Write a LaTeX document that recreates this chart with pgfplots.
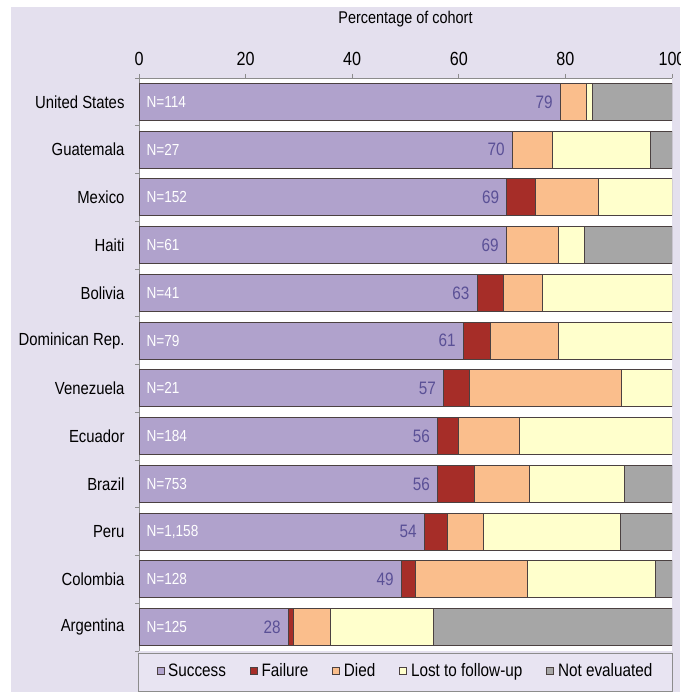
\documentclass[border=0pt]{standalone}
\usepackage{fontspec}
\setmainfont{Liberation Sans}[FakeStretch=0.85]
\usepackage{pgfplots}
\usepackage{pgfplotstable}
\pgfplotsset{compat=1.18}
\definecolor{bgl}{RGB}{228,224,238}
\definecolor{legbg}{RGB}{232,228,242}
\definecolor{csucc}{RGB}{176,162,204}
\definecolor{cfail}{RGB}{166,45,40}
\definecolor{cdied}{RGB}{250,190,140}
\definecolor{clost}{RGB}{255,255,204}
\definecolor{cne}{RGB}{166,166,166}
\definecolor{cout}{RGB}{75,65,65}
\definecolor{cpct}{RGB}{90,80,150}
\definecolor{caxis}{RGB}{140,140,140}

\pgfplotstableread{
idx succ fail died lost ne
11 79 0 5 1 15
10 70 0 7.5 18.5 4
9 69 5.3 11.8 13.9 0
8 68.9 0 9.8 4.9 16.4
7 63.4 4.9 7.3 24.4 0
6 60.8 5.1 12.7 21.4 0
5 57.1 4.8 28.6 9.5 0
4 56 4 11.4 28.6 0
3 56 7 10.2 17.8 9
2 53.5 4.4 6.7 25.8 9.6
1 49.2 2.6 21 24 3.2
0 28 1 7 19.2 44.8
}\data

\pgfplotstableread{
idx x lab
11 0 N=114
10 0 N=27
9 0 N=152
8 0 N=61
7 0 N=41
6 0 N=79
5 0 N=21
4 0 N=184
3 0 N=753
2 0 N=1,158
1 0 N=128
0 0 N=125
}\nlab

\pgfplotstableread{
idx x lab
11 79 79
10 70 70
9 69 69
8 68.9 69
7 63.4 63
6 60.8 61
5 57.1 57
4 56 56
3 56 56
2 53.5 54
1 49.2 49
0 28 28
}\plab

\begin{document}
\begin{tikzpicture}[x=1pt,y=1pt]
\useasboundingbox (0,0) rectangle (680,-692);
\fill[bgl] (11,-7) rectangle (680,-692);
\filldraw[fill=legbg, draw=caxis, line width=0.8pt] (138,-653) rectangle (672,-691.5);
\begin{axis}[
  at={(139pt,-78pt)}, anchor=north west,
  scale only axis, width=533pt, height=573pt,
  xmin=0, xmax=100, ymin=-0.5, ymax=11.5,
  xbar stacked, bar width=37pt,
  axis background/.style={fill=white},
  axis x line*=top, axis y line*=left,
  axis line style={draw=caxis, line width=0.8pt},
  xtick={0,20,40,60,80,100},
  xticklabels={0,20,40,60,80,100},
  ytick={-0.5,0.5,1.5,2.5,3.5,4.5,5.5,6.5,7.5,8.5,9.5,10.5,11.5},
  yticklabels={},
  tick align=outside, major tick length=4pt,
  tick style={draw=caxis, line width=0.8pt},
  xticklabel style={font=\fontsize{19}{22}\selectfont},
  xticklabel shift=5pt,
  title={Percentage of cohort},
  title style={at={(0.5,1)}, anchor=center, yshift=53pt, font=\fontsize{17}{20}\selectfont},
  legend columns=5,
  legend style={at={(0.5,-0.035)}, anchor=center, draw=none, fill=none,
    font=\fontsize{18}{21}\selectfont,
    /tikz/every odd column/.append style={column sep=2pt},
    /tikz/every even column/.append style={column sep=22pt}},
  legend image code/.code={\draw[#1, draw=cout, line width=0.6pt] (0pt,-3.5pt) rectangle (7pt,3.5pt);},
  every axis plot/.append style={draw=cout, line width=0.8pt},
]
\addplot[fill=csucc] table[x=succ, y=idx]{\data};
\addplot[fill=cfail] table[x=fail, y=idx]{\data};
\addplot[fill=cdied] table[x=died, y=idx]{\data};
\addplot[fill=clost] table[x=lost, y=idx]{\data};
\addplot[fill=cne] table[x=ne, y=idx]{\data};
\legend{Success, Failure, Died, Lost to follow-up, Not evaluated}
\end{axis}
\begin{axis}[
  at={(139pt,-78pt)}, anchor=north west,
  scale only axis, width=533pt, height=573pt,
  xmin=0, xmax=100, ymin=-0.5, ymax=11.5,
  axis line style={draw=none}, tick style={draw=none},
  xtick=\empty, ytick={0,...,11},
  yticklabels={Argentina,Colombia,Peru,Brazil,Ecuador,Venezuela,Dominican Rep.,Bolivia,Haiti,Mexico,Guatemala,United States},
  yticklabel style={font=\fontsize{17.5}{20}\selectfont, xshift=-11pt},
  clip=false,
]
\addplot[draw=none, mark=none, nodes near coords, point meta=explicit symbolic,
  nodes near coords style={anchor=west, xshift=4pt, text=white, font=\fontsize{16}{19}\selectfont}]
  table[x=x, y=idx, meta=lab]{\nlab};
\addplot[draw=none, mark=none, nodes near coords, point meta=explicit symbolic,
  nodes near coords style={anchor=east, xshift=-4pt, text=cpct, font=\fontsize{18}{21}\selectfont}]
  table[x=x, y=idx, meta=lab]{\plab};
\end{axis}
\end{tikzpicture}
\end{document}
